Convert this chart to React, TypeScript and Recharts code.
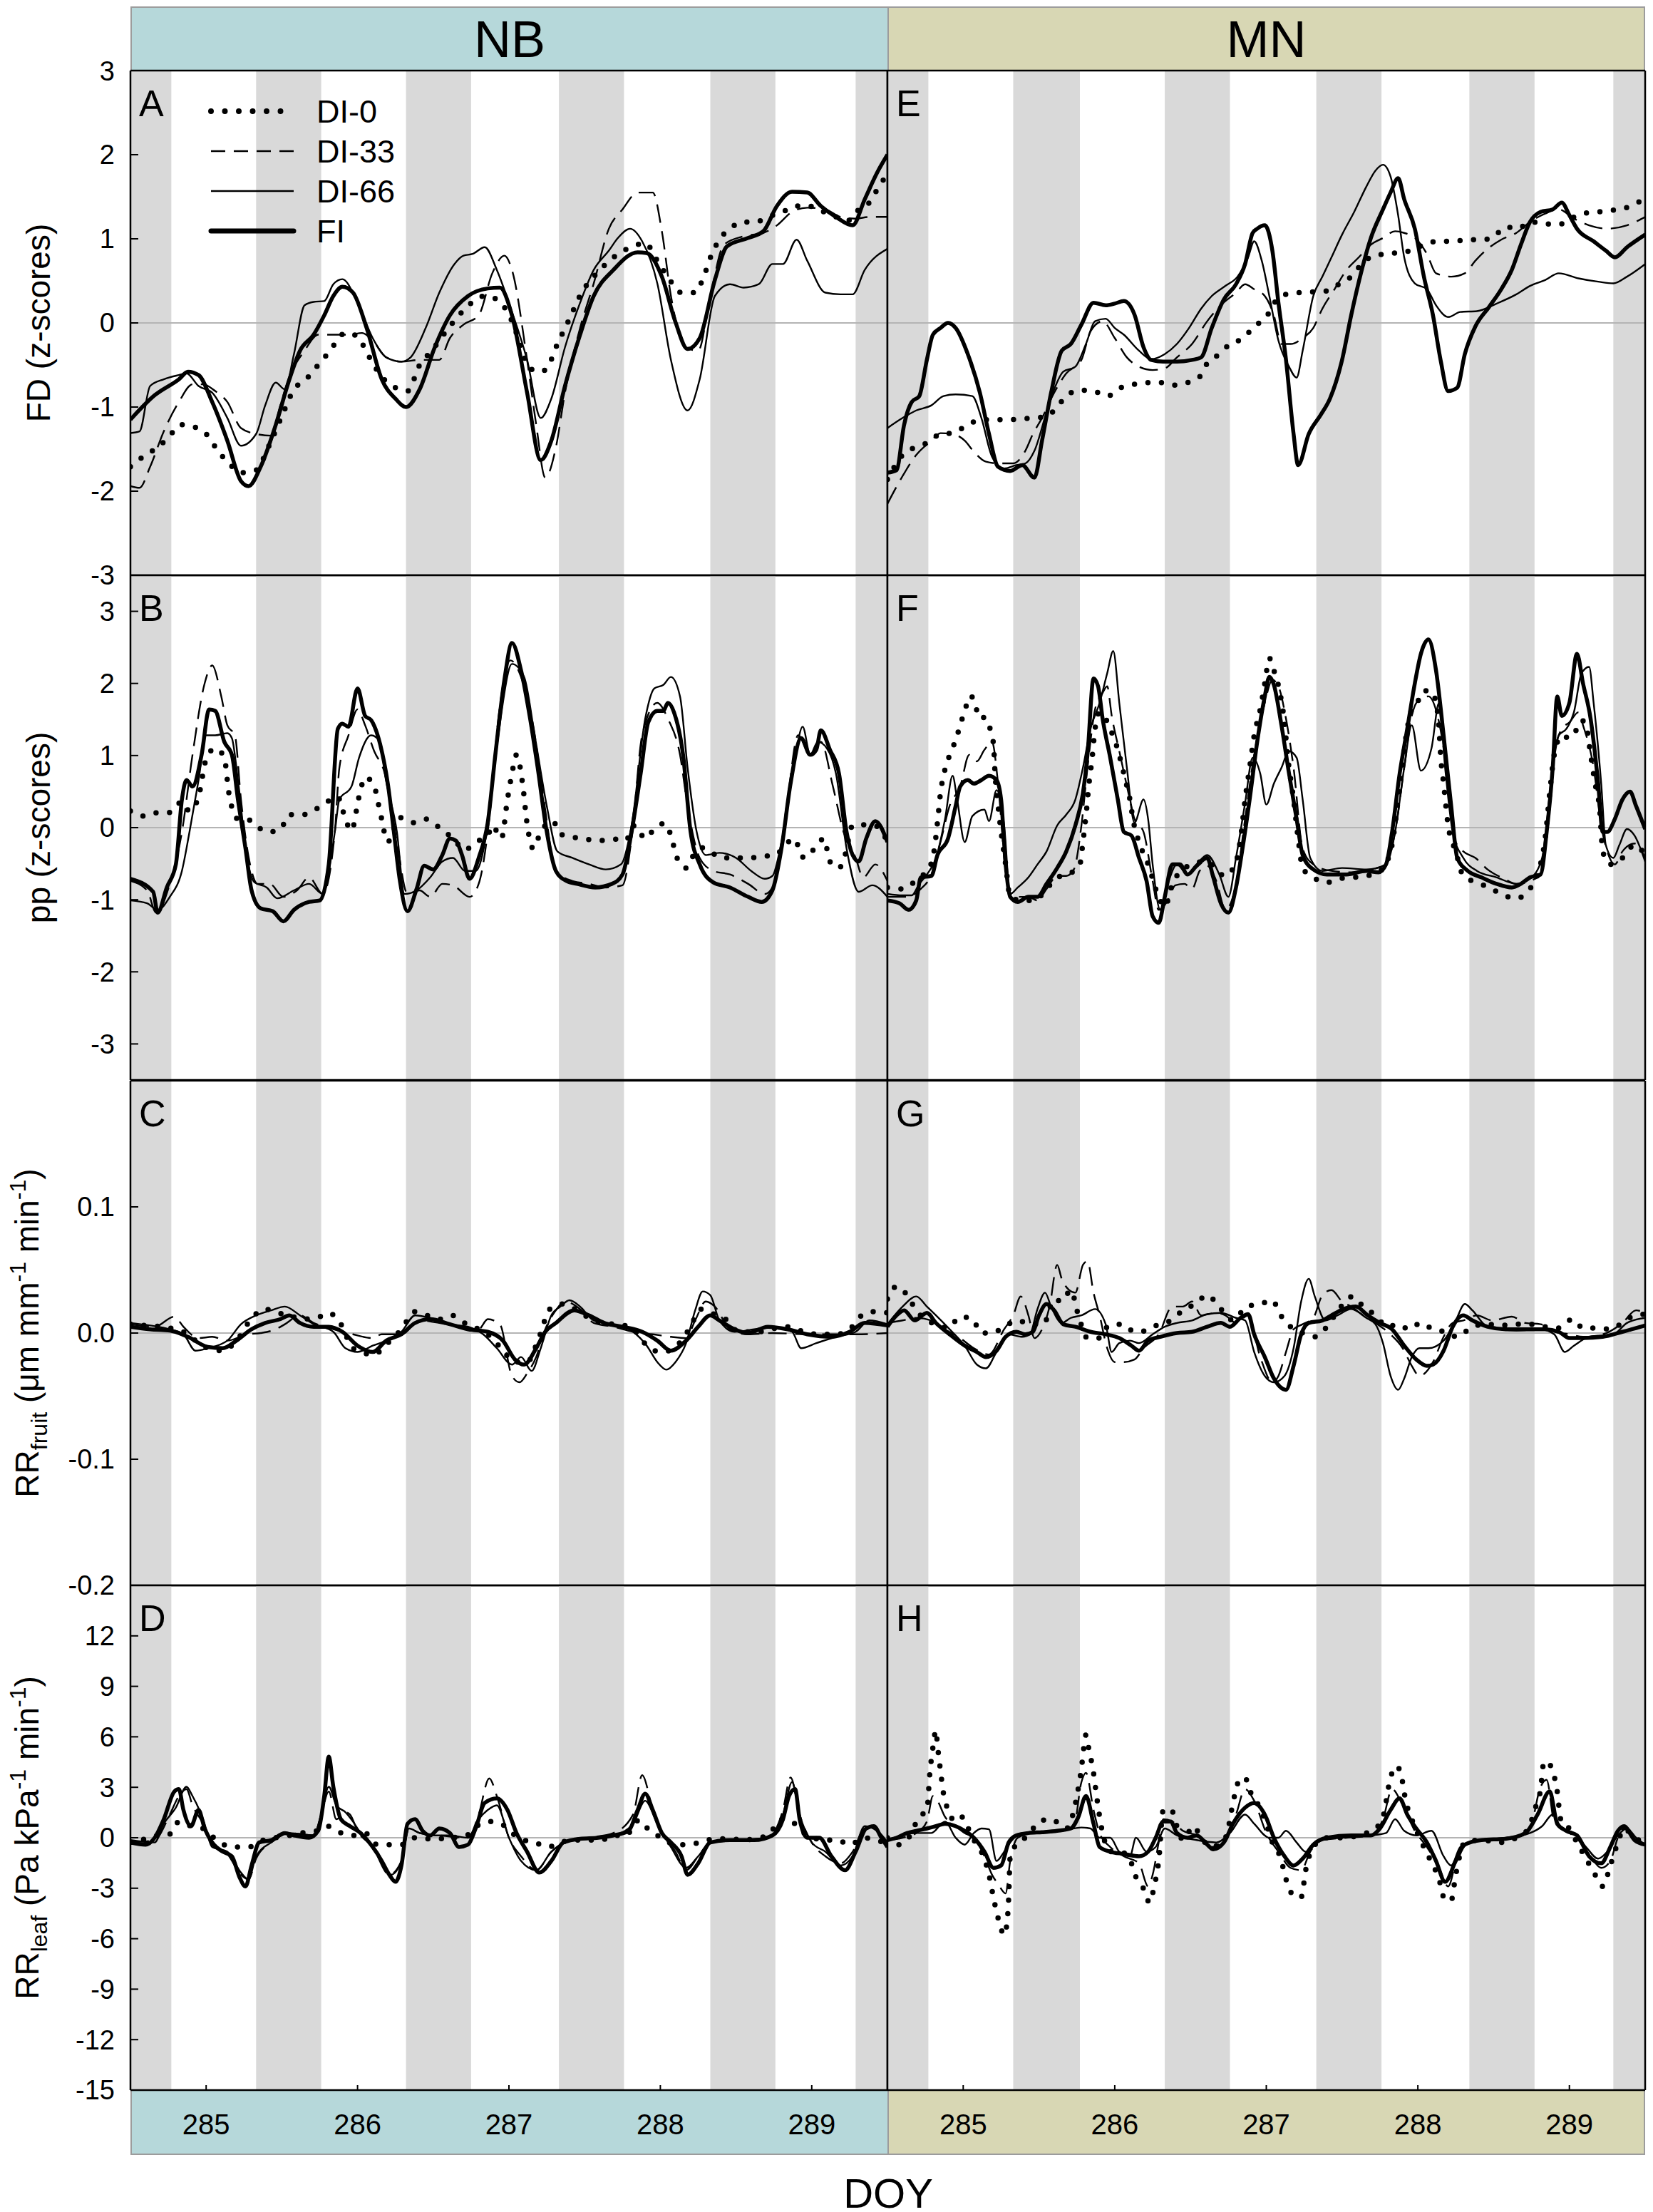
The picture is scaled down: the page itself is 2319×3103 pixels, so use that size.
import React from 'react';
import { LineChart, Line, XAxis, YAxis, ReferenceArea, ReferenceLine, Legend } from 'recharts';

type Pt = [number, number];

const FONT = '"Liberation Sans", Arial, Helvetica, sans-serif';

// ---- axes / categories ----
const doyTicks = [285, 286, 287, 288, 289];
const sites = ['NB', 'MN'];
const siteColors = ['#b6d8da', '#d8d7b4'];
const panelLetters = [['A', 'B', 'C', 'D'], ['E', 'F', 'G', 'H']];
const seriesNames = ['DI-0', 'DI-33', 'DI-66', 'FI'];

const nightsNB: Pt[] = [[284.5, 284.77], [285.33, 285.76], [286.32, 286.75], [287.33, 287.76], [288.33, 288.76], [289.29, 289.5]];
const nightsMN: Pt[] = [[284.5, 284.77], [285.33, 285.77], [286.33, 286.76], [287.33, 287.76], [288.34, 288.77], [289.29, 289.5]];

const fdTicks = [-3, -2, -1, 0, 1, 2, 3];
const ppTicks = [-3, -2, -1, 0, 1, 2, 3];
const rfTicks = [-0.2, -0.1, 0, 0.1, 0.2];
const rlTicks = [-15, -12, -9, -6, -3, 0, 3, 6, 9, 12, 15];

// ---- FD, NB ----
const fdNB_DI0: Pt[] = [[284.50,-1.71],[284.60,-1.57],[284.68,-1.48],[284.76,-1.34],[284.83,-1.21],[284.91,-1.23],[285.01,-1.34],[285.07,-1.50],[285.15,-1.67],[285.23,-1.78],[285.33,-1.75],[285.41,-1.48],[285.50,-1.11],[285.58,-0.79],[285.66,-0.67],[285.74,-0.50],[285.81,-0.35],[285.92,-0.12],[286.00,-0.16],[286.06,-0.35],[286.16,-0.64],[286.25,-0.77],[286.33,-0.81],[286.41,-0.50],[286.49,-0.33],[286.61,-0.04],[286.70,0.15],[286.76,0.25],[286.84,0.32],[286.92,0.28],[287.02,0.02],[287.12,-0.48],[287.18,-0.58],[287.24,-0.56],[287.32,-0.25],[287.40,0.05],[287.48,0.36],[287.56,0.55],[287.64,0.70],[287.72,0.82],[287.82,0.91],[287.90,0.95],[287.98,0.74],[288.07,0.49],[288.14,0.36],[288.23,0.36],[288.28,0.52],[288.34,0.82],[288.39,0.99],[288.46,1.12],[288.54,1.20],[288.63,1.20],[288.71,1.26],[288.81,1.32],[288.89,1.39],[288.98,1.39],[289.08,1.32],[289.16,1.26],[289.25,1.22],[289.32,1.37],[289.38,1.43],[289.43,1.58],[289.48,1.72]];
const fdNB_DI33: Pt[] = [[284.50,-1.94],[284.56,-1.96],[284.63,-1.71],[284.72,-1.29],[284.82,-0.94],[284.91,-0.73],[284.98,-0.73],[285.06,-0.81],[285.14,-0.94],[285.23,-1.25],[285.33,-1.32],[285.43,-1.34],[285.49,-0.98],[285.55,-0.64],[285.65,-0.33],[285.74,-0.14],[285.84,-0.14],[285.94,-0.14],[286.03,-0.12],[286.10,-0.21],[286.19,-0.41],[286.29,-0.46],[286.41,-0.44],[286.54,-0.44],[286.61,-0.18],[286.70,-0.02],[286.80,0.09],[286.89,0.59],[286.97,0.80],[287.02,0.63],[287.12,-0.44],[287.18,-1.21],[287.24,-1.84],[287.31,-1.48],[287.37,-0.83],[287.47,-0.06],[287.56,0.47],[287.66,1.12],[287.75,1.35],[287.85,1.55],[287.95,1.55],[288.01,1.09],[288.07,0.32],[288.17,-0.29],[288.25,-0.33],[288.33,0.32],[288.42,0.93],[288.55,1.03],[288.68,1.07],[288.77,1.16],[288.87,1.32],[288.97,1.37],[289.09,1.35],[289.19,1.26],[289.29,1.24],[289.38,1.26],[289.50,1.26]];
const fdNB_DI66: Pt[] = [[284.50,-1.31],[284.56,-1.29],[284.63,-0.75],[284.72,-0.67],[284.82,-0.62],[284.87,-0.60],[284.95,-0.75],[285.04,-0.83],[285.14,-1.13],[285.23,-1.46],[285.33,-1.32],[285.39,-0.98],[285.46,-0.71],[285.52,-0.79],[285.58,-0.37],[285.65,0.21],[285.71,0.25],[285.78,0.26],[285.84,0.46],[285.90,0.52],[286.00,0.24],[286.10,-0.18],[286.19,-0.41],[286.29,-0.46],[286.35,-0.41],[286.45,-0.06],[286.54,0.36],[286.64,0.70],[286.70,0.80],[286.76,0.82],[286.84,0.90],[286.92,0.63],[287.02,0.13],[287.12,-0.44],[287.21,-1.13],[287.28,-0.90],[287.37,-0.29],[287.47,0.24],[287.56,0.63],[287.66,0.86],[287.72,1.01],[287.80,1.12],[287.88,0.97],[287.98,0.47],[288.07,-0.44],[288.18,-1.04],[288.26,-0.67],[288.36,0.32],[288.46,0.46],[288.55,0.42],[288.65,0.46],[288.74,0.70],[288.81,0.70],[288.90,0.99],[288.97,0.74],[289.09,0.36],[289.19,0.34],[289.27,0.34],[289.35,0.63],[289.50,0.88]];
const fdNB_FI: Pt[] = [[284.50,-1.15],[284.66,-0.86],[284.82,-0.67],[284.88,-0.58],[284.95,-0.62],[285.04,-0.94],[285.14,-1.40],[285.23,-1.88],[285.28,-1.94],[285.36,-1.71],[285.46,-1.21],[285.55,-0.67],[285.62,-0.33],[285.71,-0.14],[285.78,0.09],[285.84,0.32],[285.90,0.43],[285.97,0.36],[286.06,-0.06],[286.16,-0.67],[286.25,-0.90],[286.32,-1.00],[286.41,-0.79],[286.51,-0.29],[286.61,0.09],[286.73,0.32],[286.86,0.41],[286.94,0.42],[287.02,0.09],[287.12,-0.83],[287.21,-1.63],[287.28,-1.40],[287.37,-0.75],[287.47,-0.14],[287.56,0.32],[287.69,0.63],[287.85,0.84],[287.91,0.83],[288.01,0.55],[288.10,0.01],[288.18,-0.31],[288.26,-0.18],[288.36,0.51],[288.44,0.91],[288.58,1.01],[288.68,1.09],[288.77,1.39],[288.87,1.56],[288.97,1.55],[289.06,1.39],[289.16,1.26],[289.27,1.16],[289.35,1.47],[289.43,1.78],[289.50,2.00]];

// ---- pp, NB ----
const ppNB_DI0: Pt[] = [[284.50,0.23],[284.59,0.16],[284.69,0.21],[284.76,0.21],[284.84,0.36],[284.89,0.23],[284.95,0.43],[285.00,0.95],[285.06,1.10],[285.12,0.97],[285.15,0.48],[285.21,0.12],[285.27,0.12],[285.32,0.04],[285.41,-0.06],[285.49,-0.02],[285.55,0.18],[285.64,0.18],[285.72,0.25],[285.80,0.36],[285.87,0.43],[285.90,0.25],[285.96,-0.04],[286.01,0.43],[286.05,0.70],[286.11,0.57],[286.15,0.21],[286.20,-0.20],[286.24,-0.02],[286.28,0.14],[286.37,0.07],[286.45,0.12],[286.54,0.00],[286.63,-0.15],[286.71,-0.31],[286.78,-0.20],[286.86,-0.11],[286.89,0.03],[286.95,-0.15],[286.99,0.39],[287.02,0.75],[287.05,1.01],[287.09,0.61],[287.12,0.05],[287.16,-0.29],[287.21,-0.06],[287.29,0.09],[287.34,-0.09],[287.42,-0.13],[287.51,-0.16],[287.60,-0.18],[287.70,-0.16],[287.77,-0.18],[287.83,0.03],[287.90,-0.15],[287.96,-0.02],[288.03,0.06],[288.07,-0.11],[288.11,-0.42],[288.17,-0.56],[288.22,-0.38],[288.28,-0.28],[288.41,-0.42],[288.50,-0.42],[288.58,-0.42],[288.67,-0.40],[288.76,-0.38],[288.82,-0.26],[288.88,-0.15],[288.95,-0.42],[289.03,-0.26],[289.08,-0.15],[289.12,-0.47],[289.18,-0.56],[289.22,-0.38],[289.27,0.03],[289.34,0.04],[289.42,0.03],[289.47,-0.11],[289.50,-0.15]];
const ppNB_DI33: Pt[] = [[284.50,-0.74],[284.61,-0.87],[284.67,-1.18],[284.76,-0.78],[284.84,-0.06],[284.91,1.01],[284.99,2.00],[285.04,2.25],[285.10,1.82],[285.14,1.42],[285.19,1.28],[285.23,0.39],[285.29,-0.51],[285.34,-0.78],[285.42,-0.78],[285.51,-0.96],[285.60,-0.87],[285.68,-0.69],[285.77,-0.92],[285.85,-0.06],[285.88,0.83],[285.94,1.28],[286.00,1.64],[286.05,1.42],[286.11,1.06],[286.18,0.75],[286.26,-0.20],[286.33,-0.92],[286.41,-0.87],[286.48,-0.96],[286.56,-0.78],[286.63,-0.80],[286.74,-0.96],[286.80,-0.78],[286.87,0.12],[286.93,1.51],[287.01,2.32],[287.08,2.09],[287.16,1.42],[287.23,0.39],[287.31,-0.60],[287.42,-0.74],[287.53,-0.78],[287.64,-0.83],[287.75,-0.80],[287.81,-0.15],[287.88,1.28],[287.98,1.73],[288.05,1.51],[288.13,1.01],[288.18,0.30],[288.26,-0.42],[288.35,-0.60],[288.46,-0.65],[288.58,-0.78],[288.69,-0.92],[288.76,-0.74],[288.84,0.39],[288.91,1.28],[288.99,1.01],[289.06,1.19],[289.14,0.57],[289.21,-0.06],[289.29,-0.42],[289.34,-0.69],[289.42,-0.51],[289.50,-0.74]];
const ppNB_DI66: Pt[] = [[284.50,-1.01],[284.61,-1.05],[284.68,-1.14],[284.76,-0.96],[284.84,-0.60],[284.89,-0.06],[284.95,0.66],[285.00,1.28],[285.06,1.28],[285.14,1.31],[285.17,1.24],[285.21,0.66],[285.27,-0.42],[285.32,-0.76],[285.40,-0.83],[285.47,-0.98],[285.58,-0.87],[285.68,-0.78],[285.77,-0.92],[285.85,-0.06],[285.88,0.39],[285.96,0.57],[286.01,0.97],[286.09,1.28],[286.15,1.19],[286.18,0.75],[286.26,-0.06],[286.31,-0.92],[286.39,-0.87],[286.48,-0.69],[286.56,-0.47],[286.63,-0.42],[286.71,-0.60],[286.78,-0.60],[286.86,0.03],[286.93,1.28],[287.02,2.27],[287.10,2.09],[287.17,1.28],[287.25,0.30],[287.32,-0.33],[287.42,-0.42],[287.53,-0.51],[287.64,-0.58],[287.74,-0.51],[287.81,0.03],[287.90,1.51],[287.96,1.93],[288.02,1.98],[288.07,2.09],[288.13,1.82],[288.18,0.83],[288.24,-0.06],[288.30,-0.38],[288.39,-0.35],[288.50,-0.42],[288.60,-0.60],[288.69,-0.71],[288.74,-0.67],[288.80,-0.20],[288.88,0.83],[288.94,1.40],[288.99,1.01],[289.04,1.19],[289.10,1.10],[289.16,0.75],[289.23,-0.29],[289.31,-0.89],[289.40,-0.80],[289.50,-0.96]];
const ppNB_FI: Pt[] = [[284.50,-0.71],[284.65,-0.89],[284.68,-1.18],[284.74,-0.83],[284.80,-0.51],[284.84,0.39],[284.87,0.66],[284.91,0.57],[284.97,1.01],[285.02,1.64],[285.06,1.62],[285.12,1.19],[285.17,1.01],[285.21,0.39],[285.26,-0.29],[285.30,-0.87],[285.36,-1.12],[285.44,-1.16],[285.51,-1.30],[285.58,-1.14],[285.68,-1.03],[285.75,-1.01],[285.81,-0.51],[285.87,1.37],[285.90,1.44],[285.94,1.40],[286.00,1.93],[286.05,1.55],[286.09,1.49],[286.15,1.15],[286.20,0.61],[286.24,-0.06],[286.28,-0.74],[286.33,-1.16],[286.39,-0.85],[286.44,-0.53],[286.50,-0.58],[286.56,-0.38],[286.61,-0.15],[286.65,-0.18],[286.69,-0.38],[286.74,-0.71],[286.80,-0.42],[286.86,0.07],[286.91,1.01],[286.97,2.05],[287.02,2.56],[287.08,2.18],[287.14,1.51],[287.19,0.83],[287.25,-0.06],[287.31,-0.60],[287.38,-0.74],[287.45,-0.78],[287.57,-0.83],[287.68,-0.78],[287.75,-0.65],[287.81,-0.06],[287.87,0.75],[287.92,1.46],[287.98,1.62],[288.02,1.62],[288.05,1.73],[288.09,1.60],[288.15,1.01],[288.20,-0.06],[288.26,-0.51],[288.35,-0.76],[288.46,-0.83],[288.58,-0.96],[288.67,-1.03],[288.74,-0.87],[288.80,-0.29],[288.86,0.61],[288.93,1.24],[288.99,1.01],[289.03,1.08],[289.06,1.35],[289.12,1.08],[289.18,0.75],[289.23,-0.06],[289.27,-0.38],[289.31,-0.47],[289.36,-0.15],[289.42,0.09],[289.50,-0.20]];

// ---- RR fruit, NB ----
const rfNB_DI0: Pt[] = [[284.50,0.007],[284.60,0.006],[284.76,0.004],[284.85,0.001],[284.93,-0.006],[285.01,-0.012],[285.11,-0.014],[285.20,-0.006],[285.31,0.013],[285.39,0.019],[285.47,0.016],[285.55,0.014],[285.63,0.011],[285.73,0.012],[285.81,0.016],[285.89,0.007],[285.97,-0.012],[286.11,-0.017],[286.19,-0.009],[286.29,0.003],[286.38,0.017],[286.46,0.014],[286.54,0.011],[286.62,0.014],[286.72,0.007],[286.80,0.003],[286.89,-0.004],[286.96,-0.014],[287.04,-0.023],[287.12,-0.023],[287.20,-0.003],[287.27,0.019],[287.36,0.023],[287.45,0.018],[287.56,0.010],[287.69,0.007],[287.80,0.005],[287.93,-0.012],[288.01,-0.015],[288.10,-0.011],[288.19,0.003],[288.27,0.019],[288.33,0.016],[288.42,0.012],[288.52,0.001],[288.65,0.001],[288.77,0.004],[288.85,0.005],[288.97,0.000],[289.06,-0.001],[289.16,-0.001],[289.25,0.003],[289.33,0.014],[289.41,0.017],[289.50,0.016]];
const rfNB_DI33: Pt[] = [[284.50,0.007],[284.66,0.005],[284.79,0.013],[284.85,0.005],[284.95,-0.004],[285.04,-0.003],[285.14,-0.006],[285.27,-0.001],[285.36,0.000],[285.46,0.003],[285.52,0.007],[285.62,0.014],[285.71,0.008],[285.84,0.003],[285.97,-0.001],[286.10,-0.004],[286.16,-0.001],[286.29,-0.001],[286.41,0.010],[286.54,0.008],[286.67,0.005],[286.80,0.003],[286.86,0.011],[286.94,0.007],[287.02,-0.034],[287.07,-0.039],[287.12,-0.032],[287.18,-0.019],[287.24,0.003],[287.31,0.018],[287.37,0.025],[287.47,0.019],[287.56,0.008],[287.69,0.005],[287.82,0.001],[287.95,-0.001],[288.07,-0.003],[288.17,-0.004],[288.23,0.010],[288.30,0.025],[288.36,0.021],[288.46,0.003],[288.58,-0.001],[288.74,0.000],[288.97,-0.001],[289.13,-0.001],[289.29,-0.001],[289.50,0.000]];
const rfNB_DI66: Pt[] = [[284.50,0.008],[284.63,0.006],[284.76,0.003],[284.85,-0.001],[284.93,-0.014],[285.01,-0.012],[285.14,-0.006],[285.23,0.007],[285.33,0.014],[285.43,0.018],[285.52,0.021],[285.62,0.014],[285.71,0.007],[285.84,0.001],[285.92,-0.012],[286.00,-0.015],[286.10,-0.010],[286.19,-0.006],[286.29,0.001],[286.38,0.014],[286.48,0.012],[286.61,0.007],[286.73,0.005],[286.83,-0.001],[286.92,-0.012],[287.02,-0.025],[287.08,-0.019],[287.15,-0.030],[287.21,-0.012],[287.28,0.014],[287.34,0.021],[287.40,0.026],[287.47,0.021],[287.56,0.010],[287.69,0.007],[287.82,0.001],[287.91,-0.010],[287.98,-0.023],[288.04,-0.029],[288.10,-0.023],[288.17,-0.008],[288.23,0.018],[288.28,0.033],[288.33,0.030],[288.39,0.010],[288.49,0.001],[288.62,0.003],[288.74,0.005],[288.87,0.001],[288.93,-0.012],[289.03,-0.008],[289.16,-0.003],[289.29,0.001],[289.38,0.010],[289.50,0.007]];
const rfNB_FI: Pt[] = [[284.50,0.005],[284.63,0.003],[284.76,0.002],[284.88,-0.003],[285.01,-0.011],[285.11,-0.012],[285.20,-0.006],[285.30,0.003],[285.39,0.008],[285.49,0.011],[285.55,0.014],[285.62,0.008],[285.71,0.005],[285.81,0.005],[285.90,0.001],[286.00,-0.010],[286.10,-0.015],[286.19,-0.006],[286.29,-0.001],[286.38,0.008],[286.48,0.011],[286.61,0.007],[286.73,0.003],[286.86,0.001],[286.96,-0.006],[287.04,-0.021],[287.10,-0.025],[287.18,-0.012],[287.24,0.001],[287.31,0.008],[287.43,0.018],[287.53,0.014],[287.63,0.008],[287.75,0.005],[287.88,0.001],[287.98,-0.006],[288.07,-0.014],[288.17,-0.006],[288.25,0.005],[288.33,0.014],[288.39,0.010],[288.49,0.003],[288.58,0.000],[288.71,0.005],[288.84,0.003],[288.97,-0.001],[289.13,-0.003],[289.25,0.001],[289.35,0.008],[289.50,0.006]];

// ---- RR leaf, NB ----
const rlNB_DI0: Pt[] = [[284.50,-0.28],[284.60,-0.06],[284.68,0.14],[284.76,0.22],[284.82,0.96],[284.90,0.69],[284.98,0.55],[285.07,-0.14],[285.17,-0.55],[285.28,-0.55],[285.38,-0.14],[285.46,0.00],[285.55,0.14],[285.63,0.28],[285.73,0.41],[285.80,0.69],[285.88,0.33],[285.97,0.14],[286.05,0.28],[286.13,-0.41],[286.21,-0.41],[286.29,-0.41],[286.38,0.00],[286.46,-0.06],[286.54,-0.06],[286.62,0.00],[286.72,0.14],[286.80,0.77],[286.88,0.96],[286.96,0.77],[287.04,0.14],[287.10,-0.14],[287.17,-0.28],[287.26,-0.55],[287.34,-0.28],[287.43,-0.14],[287.53,-0.14],[287.61,-0.14],[287.69,0.14],[287.77,0.14],[287.86,1.05],[287.93,0.41],[288.01,0.00],[288.10,-0.41],[288.18,-0.41],[288.26,-0.28],[288.36,-0.06],[288.46,-0.06],[288.55,-0.14],[288.65,0.00],[288.71,0.14],[288.80,1.10],[288.87,0.96],[288.93,0.41],[289.01,0.00],[289.09,-0.14],[289.17,-0.14],[289.25,-0.41],[289.35,0.00],[289.41,-0.14],[289.50,-0.28]];
const rlNB_DI33: Pt[] = [[284.50,-0.28],[284.66,-0.14],[284.76,1.38],[284.82,2.48],[284.87,2.89],[284.91,1.93],[284.98,0.83],[285.04,-0.41],[285.14,-0.96],[285.23,-2.20],[285.28,-2.48],[285.33,-1.24],[285.43,-0.28],[285.55,0.28],[285.71,0.14],[285.76,1.38],[285.81,2.75],[285.86,1.10],[285.92,1.52],[285.95,1.38],[286.00,0.41],[286.10,-0.55],[286.21,-2.20],[286.29,-1.38],[286.34,0.55],[286.41,0.28],[286.54,0.14],[286.73,0.00],[286.80,1.38],[286.87,3.53],[286.92,2.48],[287.00,0.00],[287.08,-1.10],[287.18,-1.93],[287.28,-0.83],[287.37,-0.28],[287.53,0.00],[287.69,0.28],[287.82,1.38],[287.88,3.72],[287.95,1.65],[288.01,0.28],[288.10,-0.83],[288.17,-1.93],[288.25,-1.10],[288.33,-0.28],[288.52,-0.14],[288.71,0.00],[288.81,1.65],[288.86,3.58],[288.92,1.38],[289.00,-0.28],[289.09,-1.10],[289.19,-1.52],[289.27,-0.83],[289.35,0.55],[289.43,0.41],[289.50,-0.28]];
const rlNB_DI66: Pt[] = [[284.50,-0.14],[284.66,-0.28],[284.72,0.83],[284.80,1.79],[284.87,3.03],[284.91,2.48],[284.98,1.10],[285.04,-0.55],[285.14,-0.83],[285.23,-2.07],[285.28,-2.48],[285.33,-1.10],[285.43,-0.28],[285.55,0.28],[285.71,0.14],[285.76,1.38],[285.81,3.03],[285.86,1.93],[285.92,1.52],[285.97,0.96],[286.03,0.14],[286.13,-0.83],[286.22,-2.20],[286.29,-1.38],[286.34,0.55],[286.41,0.28],[286.51,0.14],[286.61,0.14],[286.73,0.00],[286.80,1.10],[286.86,1.65],[286.92,1.93],[287.00,0.00],[287.08,-1.38],[287.18,-1.93],[287.28,-0.83],[287.37,-0.28],[287.53,0.00],[287.69,0.14],[287.82,0.83],[287.90,2.20],[287.98,0.83],[288.07,-0.55],[288.17,-1.79],[288.25,-1.10],[288.33,-0.28],[288.52,-0.14],[288.71,0.00],[288.81,1.38],[288.87,3.31],[288.92,1.38],[289.00,-0.28],[289.09,-0.83],[289.19,-1.65],[289.27,-1.10],[289.35,0.69],[289.43,0.41],[289.50,-0.28]];
const rlNB_FI: Pt[] = [[284.50,-0.28],[284.60,-0.41],[284.66,0.00],[284.72,1.10],[284.79,2.75],[284.82,2.89],[284.85,1.65],[284.90,0.69],[284.95,1.65],[284.99,0.55],[285.04,-0.28],[285.11,-0.83],[285.17,-1.10],[285.22,-2.34],[285.26,-2.89],[285.30,-1.65],[285.35,-0.28],[285.43,-0.14],[285.52,0.28],[285.58,0.14],[285.68,0.00],[285.74,0.41],[285.78,2.48],[285.81,4.82],[285.84,3.03],[285.89,1.10],[285.95,0.69],[286.02,0.28],[286.10,-0.55],[286.16,-1.38],[286.21,-2.20],[286.25,-2.62],[286.29,-1.65],[286.33,0.83],[286.38,1.10],[286.43,0.41],[286.48,0.14],[286.54,0.55],[286.61,0.28],[286.67,-0.55],[286.73,-0.41],[286.78,0.55],[286.84,2.07],[286.92,2.34],[286.99,1.65],[287.05,0.28],[287.12,-0.83],[287.20,-2.07],[287.28,-1.38],[287.36,-0.28],[287.47,-0.06],[287.59,0.00],[287.69,0.14],[287.79,0.41],[287.85,1.65],[287.90,2.62],[287.95,1.65],[288.01,0.28],[288.07,-0.28],[288.14,-1.10],[288.18,-2.20],[288.25,-1.52],[288.33,-0.28],[288.46,-0.14],[288.62,-0.14],[288.74,0.14],[288.81,1.10],[288.85,2.48],[288.89,2.89],[288.92,1.10],[288.97,0.00],[289.05,0.00],[289.13,-1.10],[289.22,-1.93],[289.29,-0.83],[289.36,0.55],[289.41,0.69],[289.46,0.00],[289.50,-0.55]];

// ---- FD, MN ----
const fdMN_DI0: Pt[] = [[284.50,-1.86],[284.60,-1.57],[284.68,-1.48],[284.77,-1.42],[284.85,-1.32],[284.93,-1.31],[285.03,-1.21],[285.12,-1.15],[285.20,-1.15],[285.30,-1.15],[285.38,-1.14],[285.47,-1.13],[285.55,-1.11],[285.62,-1.00],[285.69,-0.85],[285.78,-0.80],[285.86,-0.81],[285.95,-0.87],[286.04,-0.77],[286.13,-0.73],[286.21,-0.71],[286.30,-0.71],[286.39,-0.74],[286.48,-0.71],[286.56,-0.64],[286.61,-0.48],[286.69,-0.37],[286.76,-0.25],[286.85,-0.18],[286.92,-0.04],[287.00,0.07],[287.05,0.23],[287.13,0.34],[287.22,0.36],[287.31,0.37],[287.40,0.38],[287.48,0.46],[287.56,0.55],[287.63,0.70],[287.71,0.80],[287.80,0.82],[287.88,0.84],[287.96,0.86],[288.06,0.95],[288.14,0.97],[288.23,0.97],[288.33,0.99],[288.41,0.99],[288.49,1.01],[288.58,1.14],[288.66,1.12],[288.74,1.20],[288.84,1.18],[288.93,1.17],[289.01,1.24],[289.09,1.30],[289.19,1.32],[289.29,1.34],[289.36,1.36],[289.46,1.44]];
const fdMN_DI33: Pt[] = [[284.50,-2.15],[284.60,-1.82],[284.69,-1.57],[284.79,-1.40],[284.85,-1.31],[284.93,-1.32],[285.01,-1.40],[285.07,-1.53],[285.15,-1.65],[285.23,-1.67],[285.33,-1.67],[285.41,-1.52],[285.46,-1.32],[285.52,-1.13],[285.60,-0.83],[285.68,-0.60],[285.78,-0.44],[285.84,-0.10],[285.92,0.02],[286.00,-0.18],[286.08,-0.41],[286.16,-0.52],[286.25,-0.56],[286.33,-0.54],[286.41,-0.41],[286.51,-0.25],[286.61,0.02],[286.70,0.21],[286.80,0.36],[286.86,0.46],[286.92,0.40],[286.99,0.32],[287.05,0.09],[287.10,-0.25],[287.16,-0.25],[287.24,-0.18],[287.31,-0.06],[287.37,0.17],[287.45,0.40],[287.53,0.63],[287.61,0.78],[287.69,0.93],[287.77,1.01],[287.85,1.09],[287.91,1.07],[287.98,1.01],[288.06,0.82],[288.12,0.59],[288.22,0.55],[288.31,0.59],[288.38,0.74],[288.46,0.88],[288.55,0.99],[288.65,1.07],[288.74,1.20],[288.84,1.30],[288.93,1.35],[289.03,1.24],[289.13,1.16],[289.25,1.12],[289.38,1.16],[289.50,1.26]];
const fdMN_DI66: Pt[] = [[284.50,-1.25],[284.60,-1.13],[284.69,-1.04],[284.79,-0.98],[284.87,-0.87],[284.95,-0.85],[285.06,-0.87],[285.12,-1.13],[285.19,-1.59],[285.27,-1.73],[285.35,-1.69],[285.41,-1.67],[285.47,-1.52],[285.55,-1.06],[285.60,-0.79],[285.66,-0.58],[285.74,-0.52],[285.81,-0.25],[285.87,0.02],[285.94,0.05],[286.00,-0.06],[286.06,-0.14],[286.16,-0.33],[286.24,-0.43],[286.33,-0.37],[286.41,-0.25],[286.49,-0.06],[286.57,0.17],[286.64,0.32],[286.73,0.44],[286.81,0.55],[286.88,0.78],[286.92,0.97],[286.97,0.74],[287.02,0.32],[287.08,-0.21],[287.15,-0.52],[287.20,-0.65],[287.24,-0.33],[287.31,0.32],[287.37,0.55],[287.43,0.78],[287.50,1.05],[287.58,1.32],[287.66,1.62],[287.72,1.81],[287.77,1.88],[287.82,1.74],[287.87,1.28],[287.91,0.78],[287.98,0.47],[288.06,0.40],[288.12,0.21],[288.20,0.07],[288.28,0.13],[288.39,0.14],[288.52,0.23],[288.65,0.34],[288.74,0.44],[288.84,0.51],[288.93,0.59],[289.06,0.53],[289.19,0.49],[289.29,0.47],[289.38,0.55],[289.50,0.70]];
const fdMN_FI: Pt[] = [[284.50,-1.78],[284.56,-1.75],[284.61,-1.21],[284.66,-0.94],[284.71,-0.87],[284.76,-0.44],[284.80,-0.14],[284.85,-0.06],[284.90,0.00],[284.95,-0.06],[285.03,-0.37],[285.11,-0.83],[285.17,-1.32],[285.23,-1.71],[285.31,-1.76],[285.39,-1.69],[285.47,-1.84],[285.52,-1.40],[285.58,-0.83],[285.65,-0.33],[285.71,-0.25],[285.78,-0.02],[285.86,0.24],[285.94,0.21],[286.00,0.23],[286.06,0.26],[286.13,0.10],[286.19,-0.29],[286.24,-0.44],[286.32,-0.46],[286.41,-0.46],[286.51,-0.44],[286.57,-0.41],[286.64,-0.06],[286.72,0.28],[286.80,0.46],[286.86,0.70],[286.91,1.07],[286.94,1.12],[286.99,1.16],[287.04,0.86],[287.08,0.24],[287.13,-0.44],[287.18,-1.32],[287.21,-1.69],[287.28,-1.32],[287.36,-1.09],[287.42,-0.90],[287.50,-0.44],[287.56,0.09],[287.63,0.63],[287.69,1.01],[287.77,1.35],[287.82,1.55],[287.87,1.72],[287.91,1.47],[287.98,1.12],[288.04,0.55],[288.10,0.09],[288.15,-0.44],[288.20,-0.81],[288.26,-0.77],[288.31,-0.37],[288.38,-0.04],[288.47,0.19],[288.55,0.40],[288.62,0.63],[288.68,0.93],[288.74,1.20],[288.81,1.32],[288.89,1.35],[288.95,1.43],[289.00,1.28],[289.05,1.12],[289.16,0.97],[289.24,0.86],[289.30,0.78],[289.38,0.90],[289.50,1.05]];

// ---- pp, MN ----
const ppMN_DI0: Pt[] = [[284.50,-0.83],[284.60,-0.85],[284.71,-0.69],[284.77,-0.58],[284.81,-0.29],[284.83,0.07],[284.85,0.48],[284.88,0.81],[284.93,1.10],[284.96,1.28],[284.99,1.49],[285.02,1.69],[285.05,1.83],[285.08,1.69],[285.11,1.51],[285.14,1.53],[285.18,1.35],[285.20,1.15],[285.21,0.75],[285.23,0.30],[285.25,-0.06],[285.28,-0.51],[285.31,-0.96],[285.39,-1.01],[285.47,-1.01],[285.55,-0.85],[285.62,-0.69],[285.69,-0.65],[285.73,-0.60],[285.77,-0.51],[285.79,-0.20],[285.81,0.16],[285.83,0.61],[285.85,0.95],[285.87,1.37],[285.90,1.60],[285.94,1.51],[285.97,1.37],[286.01,1.15],[286.04,0.92],[286.07,0.66],[286.10,0.39],[286.12,0.12],[286.16,-0.20],[286.22,-0.51],[286.29,-0.96],[286.33,-1.10],[286.38,-0.78],[286.45,-0.58],[286.51,-0.51],[286.59,-0.47],[286.67,-0.56],[286.72,-0.67],[286.75,-0.60],[286.78,-0.58],[286.83,-0.15],[286.86,0.39],[286.89,0.83],[286.92,1.28],[286.96,1.64],[286.99,2.00],[287.02,2.35],[287.05,2.18],[287.09,1.87],[287.12,1.46],[287.14,1.01],[287.18,0.39],[287.21,-0.15],[287.24,-0.56],[287.31,-0.69],[287.40,-0.76],[287.48,-0.71],[287.57,-0.69],[287.66,-0.67],[287.74,-0.62],[287.82,-0.33],[287.87,0.39],[287.90,0.92],[287.93,1.37],[287.96,1.64],[287.99,1.71],[288.04,1.90],[288.09,1.89],[288.12,1.73],[288.14,1.37],[288.15,1.01],[288.17,0.61],[288.20,0.03],[288.25,-0.33],[288.30,-0.67],[288.39,-0.76],[288.47,-0.83],[288.57,-0.94],[288.65,-0.98],[288.73,-0.87],[288.79,-0.65],[288.84,-0.15],[288.87,0.48],[288.90,1.01],[288.95,1.28],[289.00,1.24],[289.05,1.37],[289.08,1.49],[289.11,1.42],[289.14,1.01],[289.17,0.61],[289.20,0.25],[289.22,-0.33],[289.27,-0.51],[289.35,-0.42],[289.43,-0.24],[289.50,-0.38]];
const ppMN_DI33: Pt[] = [[284.50,-0.96],[284.63,-0.96],[284.72,-0.85],[284.79,-0.65],[284.85,-0.20],[284.91,0.30],[284.98,0.57],[285.04,1.01],[285.09,0.92],[285.14,1.08],[285.19,1.19],[285.23,0.61],[285.28,-0.60],[285.33,-0.96],[285.43,-0.96],[285.49,-1.01],[285.55,-0.85],[285.62,-0.67],[285.68,-0.67],[285.73,-0.58],[285.78,0.03],[285.82,0.83],[285.87,1.64],[285.92,1.87],[285.95,1.96],[285.98,1.55],[286.03,1.06],[286.10,0.39],[286.13,0.12],[286.19,-0.06],[286.25,-0.74],[286.29,-1.14],[286.35,-1.01],[286.40,-0.80],[286.46,-0.78],[286.51,-0.85],[286.56,-0.60],[286.61,-0.53],[286.67,-0.74],[286.73,-1.14],[286.80,-0.78],[286.86,0.12],[286.92,1.01],[286.99,1.73],[287.04,2.05],[287.08,1.96],[287.13,1.51],[287.18,0.83],[287.24,-0.29],[287.31,-0.51],[287.43,-0.60],[287.56,-0.62],[287.69,-0.58],[287.79,-0.51],[287.85,-0.06],[287.91,0.83],[287.96,1.55],[288.01,1.78],[288.07,1.82],[288.14,1.46],[288.20,0.66],[288.25,-0.20],[288.30,-0.33],[288.38,-0.42],[288.46,-0.58],[288.57,-0.71],[288.65,-0.78],[288.74,-0.74],[288.81,-0.65],[288.85,-0.06],[288.90,1.01],[288.95,1.37],[289.00,1.46],[289.06,1.60],[289.09,1.42],[289.16,0.83],[289.21,0.03],[289.25,-0.33],[289.30,-0.51],[289.35,-0.33],[289.43,-0.22],[289.50,-0.42]];
const ppMN_DI66: Pt[] = [[284.50,-0.92],[284.60,-0.94],[284.66,-0.94],[284.71,-0.78],[284.76,-0.65],[284.82,-0.42],[284.88,0.12],[284.93,0.72],[284.96,0.39],[285.01,-0.20],[285.06,0.16],[285.14,0.25],[285.17,0.09],[285.22,0.52],[285.27,0.03],[285.31,-0.92],[285.36,-0.83],[285.43,-0.69],[285.49,-0.51],[285.55,-0.33],[285.62,0.03],[285.68,0.18],[285.74,0.39],[285.79,0.83],[285.84,1.37],[285.90,1.73],[285.95,2.14],[285.99,2.45],[286.03,1.73],[286.08,0.83],[286.13,0.07],[286.19,0.39],[286.22,0.12],[286.25,-0.51],[286.30,-1.14],[286.35,-0.78],[286.41,-0.51],[286.48,-0.65],[286.54,-0.51],[286.61,-0.38],[286.69,-0.65],[286.75,-0.96],[286.80,-0.42],[286.86,0.34],[286.91,0.97],[286.96,0.75],[287.00,0.32],[287.05,0.61],[287.10,0.83],[287.15,1.06],[287.20,0.97],[287.24,0.39],[287.29,-0.42],[287.37,-0.60],[287.50,-0.56],[287.66,-0.58],[287.79,-0.51],[287.85,-0.06],[287.91,0.83],[287.96,1.42],[288.02,0.79],[288.09,1.10],[288.14,1.73],[288.18,0.83],[288.23,-0.06],[288.30,-0.42],[288.39,-0.60],[288.52,-0.69],[288.65,-0.78],[288.74,-0.71],[288.82,-0.42],[288.89,0.83],[288.93,1.28],[288.98,1.37],[289.03,1.60],[289.08,2.14],[289.13,2.23],[289.16,1.73],[289.21,0.61],[289.24,-0.24],[289.29,-0.42],[289.33,-0.24],[289.38,-0.02],[289.43,-0.11],[289.50,-0.47]];
const ppMN_FI: Pt[] = [[284.50,-1.01],[284.58,-1.05],[284.64,-1.14],[284.69,-1.01],[284.72,-0.69],[284.79,-0.67],[284.83,-0.38],[284.90,-0.15],[284.95,0.30],[284.98,0.57],[285.03,0.66],[285.07,0.61],[285.12,0.66],[285.17,0.72],[285.22,0.66],[285.25,0.39],[285.28,-0.51],[285.31,-0.96],[285.36,-1.03],[285.43,-0.96],[285.49,-0.96],[285.55,-0.78],[285.62,-0.56],[285.68,-0.33],[285.74,0.03],[285.79,0.48],[285.82,1.01],[285.86,2.07],[285.89,1.96],[285.92,1.51],[285.97,0.97],[286.02,0.39],[286.06,-0.06],[286.11,-0.11],[286.16,-0.42],[286.21,-0.74],[286.25,-1.23],[286.29,-1.32],[286.33,-0.96],[286.38,-0.51],[286.43,-0.51],[286.48,-0.65],[286.54,-0.53],[286.61,-0.42],[286.65,-0.69],[286.70,-1.05],[286.75,-1.18],[286.80,-0.83],[286.84,-0.33],[286.89,0.39],[286.94,1.19],[286.99,1.82],[287.02,2.09],[287.05,1.98],[287.10,1.42],[287.15,0.75],[287.20,0.12],[287.24,-0.38],[287.31,-0.58],[287.40,-0.65],[287.53,-0.65],[287.66,-0.60],[287.74,-0.62],[287.79,-0.51],[287.83,-0.06],[287.88,0.75],[287.93,1.37],[287.98,2.00],[288.02,2.41],[288.07,2.61],[288.12,2.18],[288.17,1.28],[288.22,0.30],[288.26,-0.42],[288.33,-0.60],[288.42,-0.69],[288.52,-0.78],[288.62,-0.83],[288.68,-0.78],[288.74,-0.69],[288.81,-0.65],[288.85,-0.06],[288.89,0.83],[288.92,1.82],[288.95,1.55],[289.00,1.73],[289.05,2.41],[289.09,2.00],[289.14,1.51],[289.19,0.61],[289.22,-0.06],[289.25,-0.06],[289.30,0.12],[289.35,0.39],[289.40,0.50],[289.44,0.30],[289.50,-0.02]];

// ---- RR fruit, MN ----
const rfMN_DI0: Pt[] = [[284.50,0.027],[284.56,0.037],[284.63,0.030],[284.69,0.018],[284.76,0.010],[284.82,0.007],[284.90,0.004],[284.98,0.013],[285.06,0.011],[285.12,0.000],[285.19,0.000],[285.27,0.005],[285.36,0.010],[285.44,0.007],[285.53,0.007],[285.60,0.027],[285.65,0.025],[285.71,0.034],[285.76,0.014],[285.82,-0.004],[285.90,-0.004],[285.96,0.006],[286.05,0.007],[286.13,0.001],[286.21,0.002],[286.29,0.007],[286.37,0.010],[286.45,0.018],[286.53,0.023],[286.61,0.030],[286.70,0.019],[286.78,0.010],[286.87,0.021],[286.96,0.023],[287.04,0.026],[287.09,0.015],[287.16,0.005],[287.24,0.000],[287.32,-0.003],[287.40,0.005],[287.48,0.019],[287.57,0.029],[287.64,0.021],[287.72,0.014],[287.80,0.005],[287.87,0.007],[287.94,0.003],[288.02,0.008],[288.10,0.003],[288.18,0.001],[288.26,-0.003],[288.36,0.005],[288.46,0.007],[288.55,0.006],[288.65,0.007],[288.74,0.007],[288.84,0.005],[288.93,0.004],[289.02,0.011],[289.09,0.004],[289.18,0.004],[289.27,0.003],[289.35,0.008],[289.43,0.014],[289.50,0.015]];
const rfMN_DI33: Pt[] = [[284.50,0.008],[284.60,0.010],[284.69,0.012],[284.79,0.010],[284.88,0.003],[284.98,-0.004],[285.07,-0.012],[285.17,-0.017],[285.27,0.003],[285.33,0.014],[285.38,0.029],[285.43,0.014],[285.47,-0.004],[285.52,0.003],[285.57,0.021],[285.62,0.054],[285.65,0.043],[285.70,0.034],[285.74,0.032],[285.79,0.054],[285.82,0.057],[285.86,0.032],[285.90,0.014],[285.95,-0.012],[286.00,-0.023],[286.06,-0.023],[286.13,-0.021],[286.19,-0.012],[286.29,-0.001],[286.38,0.021],[286.45,0.021],[286.51,0.025],[286.57,0.014],[286.67,0.016],[286.73,0.014],[286.80,0.008],[286.88,0.014],[286.96,-0.019],[287.04,-0.039],[287.08,-0.034],[287.13,-0.015],[287.18,0.003],[287.24,0.007],[287.31,0.012],[287.37,0.030],[287.43,0.034],[287.50,0.025],[287.56,0.021],[287.64,0.014],[287.72,0.008],[287.82,-0.001],[287.90,-0.012],[287.96,-0.026],[288.01,-0.034],[288.10,-0.023],[288.17,-0.003],[288.23,0.008],[288.30,0.010],[288.39,0.014],[288.49,0.010],[288.62,0.013],[288.71,0.008],[288.81,0.007],[288.90,0.001],[289.00,-0.001],[289.09,-0.003],[289.22,-0.001],[289.35,0.008],[289.44,0.018],[289.50,0.016]];
const rfMN_DI66: Pt[] = [[284.50,0.007],[284.60,0.021],[284.69,0.029],[284.76,0.021],[284.82,0.014],[284.91,0.003],[285.01,-0.010],[285.09,-0.025],[285.15,-0.028],[285.22,-0.015],[285.30,-0.001],[285.39,-0.003],[285.44,-0.001],[285.49,0.019],[285.54,0.032],[285.58,0.021],[285.65,0.008],[285.71,0.012],[285.78,0.014],[285.87,0.019],[285.94,0.007],[285.98,-0.015],[286.03,-0.008],[286.10,-0.006],[286.16,-0.008],[286.25,-0.001],[286.33,0.005],[286.41,0.008],[286.51,0.010],[286.61,0.015],[286.70,0.016],[286.80,0.012],[286.86,0.010],[286.92,-0.015],[286.99,-0.034],[287.05,-0.039],[287.12,-0.034],[287.18,-0.012],[287.23,0.025],[287.28,0.043],[287.32,0.029],[287.39,0.010],[287.47,0.014],[287.56,0.019],[287.66,0.012],[287.72,0.007],[287.77,-0.008],[287.82,-0.034],[287.87,-0.045],[287.91,-0.036],[287.96,-0.019],[288.01,-0.012],[288.07,-0.012],[288.17,-0.006],[288.25,0.010],[288.31,0.023],[288.36,0.018],[288.46,0.005],[288.65,0.002],[288.81,0.003],[288.90,-0.001],[288.97,-0.015],[289.03,-0.010],[289.13,-0.003],[289.29,-0.001],[289.38,0.008],[289.50,0.012]];
const rfMN_FI: Pt[] = [[284.50,0.005],[284.56,0.014],[284.61,0.018],[284.68,0.010],[284.76,0.016],[284.82,0.008],[284.91,-0.001],[285.01,-0.010],[285.09,-0.015],[285.15,-0.019],[285.22,-0.014],[285.28,-0.003],[285.35,0.001],[285.41,-0.001],[285.46,0.001],[285.50,0.014],[285.55,0.023],[285.60,0.018],[285.66,0.007],[285.74,0.005],[285.84,0.001],[285.94,-0.001],[286.03,-0.004],[286.11,-0.010],[286.16,-0.014],[286.22,-0.006],[286.30,-0.003],[286.41,0.000],[286.51,0.001],[286.61,0.005],[286.70,0.008],[286.76,0.005],[286.83,0.012],[286.88,0.015],[286.92,-0.001],[286.99,-0.019],[287.05,-0.036],[287.13,-0.045],[287.18,-0.026],[287.23,-0.001],[287.28,0.008],[287.37,0.010],[287.43,0.014],[287.51,0.019],[287.59,0.021],[287.67,0.014],[287.75,0.008],[287.83,0.003],[287.91,-0.010],[287.99,-0.021],[288.06,-0.026],[288.10,-0.025],[288.17,-0.014],[288.23,0.005],[288.30,0.014],[288.36,0.010],[288.46,0.005],[288.58,0.003],[288.71,0.003],[288.84,0.003],[288.93,0.001],[289.00,-0.004],[289.09,-0.004],[289.22,-0.003],[289.35,0.001],[289.50,0.006]];

// ---- RR leaf, MN ----
const rlMN_DI0: Pt[] = [[284.50,0.00],[284.58,-0.41],[284.64,0.00],[284.71,1.24],[284.76,1.65],[284.78,3.86],[284.80,5.37],[284.82,6.39],[284.83,5.51],[284.85,3.99],[284.87,2.62],[284.90,1.65],[284.95,0.96],[284.99,1.24],[285.06,0.00],[285.12,-0.83],[285.17,-2.20],[285.20,-3.58],[285.22,-4.41],[285.24,-5.10],[285.27,-5.79],[285.29,-4.96],[285.30,-3.58],[285.31,-1.10],[285.35,-0.41],[285.43,0.14],[285.50,0.96],[285.58,1.10],[285.68,0.55],[285.75,2.48],[285.78,4.13],[285.80,5.65],[285.81,6.12],[285.83,5.23],[285.86,3.86],[285.88,2.48],[285.92,0.28],[285.97,-0.83],[286.03,-0.83],[286.09,-1.10],[286.14,-2.34],[286.19,-3.03],[286.23,-3.86],[286.26,-2.89],[286.29,-1.38],[286.32,1.65],[286.37,1.71],[286.41,0.69],[286.45,-0.14],[286.52,0.69],[286.57,0.00],[286.64,-0.55],[286.73,0.00],[286.79,2.48],[286.83,3.58],[286.87,3.44],[286.90,2.62],[286.94,2.07],[286.99,1.10],[287.04,-0.28],[287.09,-1.10],[287.14,-2.75],[287.19,-3.53],[287.23,-3.53],[287.26,-1.93],[287.31,-0.55],[287.40,0.00],[287.50,0.00],[287.66,0.28],[287.72,0.55],[287.77,1.24],[287.82,3.58],[287.86,4.27],[287.89,3.72],[287.92,2.20],[287.96,1.10],[288.01,0.00],[288.07,-1.10],[288.14,-2.48],[288.18,-3.72],[288.22,-3.72],[288.25,-2.20],[288.31,-0.28],[288.42,-0.14],[288.55,-0.28],[288.65,0.00],[288.73,0.55],[288.77,1.65],[288.81,2.89],[288.83,4.41],[288.86,4.55],[288.89,3.86],[288.91,3.31],[288.95,0.83],[289.00,0.55],[289.05,-0.28],[289.11,-1.24],[289.17,-2.20],[289.22,-2.89],[289.27,-1.65],[289.32,-0.28],[289.36,0.55],[289.43,0.00],[289.50,-0.28]];
const rlMN_DI33: Pt[] = [[284.50,-0.14],[284.60,0.00],[284.69,0.28],[284.76,0.96],[284.80,2.48],[284.83,2.20],[284.88,1.24],[284.95,0.69],[285.01,0.28],[285.07,0.00],[285.14,-1.10],[285.19,-2.20],[285.23,-2.75],[285.28,-3.31],[285.31,-1.38],[285.36,0.00],[285.46,0.28],[285.62,0.41],[285.73,0.69],[285.78,3.31],[285.81,3.86],[285.86,1.65],[285.90,0.28],[285.97,-0.55],[286.06,-1.10],[286.16,-1.52],[286.22,-2.89],[286.25,-2.20],[286.29,-0.28],[286.32,1.10],[286.38,0.96],[286.45,0.41],[286.54,0.14],[286.64,-0.55],[286.73,0.00],[286.80,1.38],[286.86,2.89],[286.92,2.20],[287.00,0.28],[287.08,-0.83],[287.16,-1.79],[287.23,-1.93],[287.29,-0.83],[287.37,-0.14],[287.53,0.00],[287.69,0.14],[287.77,1.10],[287.83,2.89],[287.90,1.93],[287.98,0.41],[288.06,-0.55],[288.14,-1.79],[288.20,-2.89],[288.26,-1.10],[288.33,-0.28],[288.49,-0.08],[288.65,0.00],[288.74,0.55],[288.81,3.03],[288.85,3.44],[288.90,0.96],[288.98,0.41],[289.06,-0.14],[289.14,-1.10],[289.21,-1.79],[289.27,-1.38],[289.32,0.00],[289.36,0.55],[289.43,-0.14],[289.50,-0.41]];
const rlMN_DI66: Pt[] = [[284.50,-0.14],[284.60,0.14],[284.69,0.28],[284.79,0.28],[284.88,0.96],[284.95,0.00],[285.01,-0.41],[285.07,0.28],[285.12,0.55],[285.17,0.50],[285.22,-1.38],[285.27,-0.83],[285.31,-0.28],[285.39,0.28],[285.52,0.28],[285.65,0.41],[285.78,0.61],[285.84,0.55],[285.90,0.00],[285.97,0.00],[286.03,-0.83],[286.10,-1.10],[286.14,0.00],[286.21,-0.83],[286.27,-0.55],[286.33,0.55],[286.41,0.14],[286.54,-0.14],[286.67,-0.28],[286.76,0.28],[286.86,1.38],[286.92,0.83],[287.02,0.00],[287.08,0.00],[287.13,0.41],[287.20,-0.28],[287.26,-0.83],[287.34,-0.14],[287.50,0.00],[287.69,0.14],[287.79,0.28],[287.85,1.10],[287.91,0.41],[287.99,0.14],[288.09,0.41],[288.17,-1.10],[288.22,-1.65],[288.28,-0.55],[288.39,-0.14],[288.58,0.00],[288.74,0.28],[288.82,0.69],[288.89,1.38],[288.95,0.55],[289.03,0.28],[289.11,-0.55],[289.19,-1.24],[289.25,-0.83],[289.32,0.14],[289.38,0.55],[289.44,0.00],[289.50,-0.41]];
const rlMN_FI: Pt[] = [[284.50,-0.14],[284.56,0.00],[284.63,0.28],[284.69,0.41],[284.76,0.55],[284.82,0.69],[284.88,0.83],[284.95,0.69],[285.01,0.41],[285.07,0.00],[285.14,-0.83],[285.20,-1.79],[285.25,-1.65],[285.30,-0.28],[285.35,0.14],[285.43,0.28],[285.52,0.33],[285.62,0.41],[285.71,0.55],[285.76,1.24],[285.81,2.48],[285.86,0.83],[285.90,-0.55],[285.97,-0.83],[286.06,-0.96],[286.16,-1.10],[286.22,-0.83],[286.27,0.00],[286.32,0.96],[286.37,0.96],[286.41,0.28],[286.48,0.00],[286.54,0.14],[286.61,-0.41],[286.65,-0.69],[286.72,-0.28],[286.78,0.83],[286.86,1.79],[286.92,2.07],[286.99,1.38],[287.05,0.00],[287.12,-1.10],[287.18,-1.65],[287.24,-1.24],[287.31,-0.41],[287.40,0.00],[287.56,0.14],[287.69,0.14],[287.75,0.55],[287.82,1.65],[287.88,2.34],[287.93,1.38],[287.99,0.55],[288.06,-0.28],[288.12,-1.38],[288.18,-2.62],[288.25,-1.38],[288.31,-0.41],[288.42,-0.14],[288.58,-0.06],[288.71,0.28],[288.79,1.38],[288.87,2.75],[288.92,0.83],[288.98,0.41],[289.05,0.14],[289.13,-1.10],[289.21,-1.52],[289.27,-0.55],[289.32,0.41],[289.36,0.69],[289.43,-0.14],[289.50,-0.41]];

// ---- layout ----
const ROW_TOPS = [99, 807, 1516, 2224];
const PLOT_H = 708;
const PLOT_BOTTOM = 2932;
const COL_LEFT = [183, 1245];
const COL_RIGHT = [1245, 2308];

const fmtInt = (v: number) => String(v);
const rowAxes = [
  { domain: [-3, 3], ticks: fdTicks, fmt: fmtInt },
  { domain: [-3.5, 3.5], ticks: ppTicks, fmt: fmtInt },
  { domain: [-0.2, 0.2], ticks: rfTicks, fmt: (v: number) => (Math.abs(v - 0.2) < 1e-9 ? '' : v.toFixed(1)) },
  { domain: [-15, 15], ticks: rlTicks, fmt: (v: number) => (v === 15 ? '' : String(v)) },
];

const panelSeries = [
  [
    { 'DI-0': fdNB_DI0, 'DI-33': fdNB_DI33, 'DI-66': fdNB_DI66, FI: fdNB_FI },
    { 'DI-0': ppNB_DI0, 'DI-33': ppNB_DI33, 'DI-66': ppNB_DI66, FI: ppNB_FI },
    { 'DI-0': rfNB_DI0, 'DI-33': rfNB_DI33, 'DI-66': rfNB_DI66, FI: rfNB_FI },
    { 'DI-0': rlNB_DI0, 'DI-33': rlNB_DI33, 'DI-66': rlNB_DI66, FI: rlNB_FI },
  ],
  [
    { 'DI-0': fdMN_DI0, 'DI-33': fdMN_DI33, 'DI-66': fdMN_DI66, FI: fdMN_FI },
    { 'DI-0': ppMN_DI0, 'DI-33': ppMN_DI33, 'DI-66': ppMN_DI66, FI: ppMN_FI },
    { 'DI-0': rfMN_DI0, 'DI-33': rfMN_DI33, 'DI-66': rfMN_DI66, FI: rfMN_FI },
    { 'DI-0': rlMN_DI0, 'DI-33': rlMN_DI33, 'DI-66': rlMN_DI66, FI: rlMN_FI },
  ],
];

const lineStyle: Record<string, any> = {
  'DI-0': { strokeWidth: 7.5, strokeDasharray: '0 19', strokeLinecap: 'round' },
  'DI-33': { strokeWidth: 2.4, strokeDasharray: '26 12' },
  'DI-66': { strokeWidth: 2.4 },
  FI: { strokeWidth: 5.5 },
};
const legendLineStyle: Record<string, any> = {
  'DI-0': { strokeWidth: 8, strokeDasharray: '0 19.5', strokeLinecap: 'round' },
  'DI-33': { strokeWidth: 2.5, strokeDasharray: '20 12' },
  'DI-66': { strokeWidth: 2.5 },
  FI: { strokeWidth: 7, strokeLinecap: 'round' },
};

const axisLine = { stroke: '#000', strokeWidth: 2.5 };
const tickLine = { stroke: '#000', strokeWidth: 2 };
const toXY = (a: Pt[]) => a.map(([x, y]) => ({ x, y }));

const renderLegend = () => (
  <svg width={330} height={250} style={{ display: 'block', overflow: 'visible' }}>
    {seriesNames.map((n, i) => {
      const y = 40 + i * 56;
      return (
        <g key={n}>
          <line x1={8} x2={124} y1={y} y2={y} stroke="#000" {...legendLineStyle[n]} />
          <text x={156} y={y + 16} fontSize={45} fontFamily={FONT} fill="#000">{n}</text>
        </g>
      );
    })}
  </svg>
);

function Panel({ row, col }: { row: number; col: number }) {
  const ax = rowAxes[row];
  const isLeft = col === 0;
  const isBottom = row === 3;
  const bottomH = isBottom ? 100 : 1;
  const width = isLeft ? 1246 : 1065;
  const left = isLeft ? 0 : 1244;
  const height = 1 + PLOT_H + bottomH;
  const nights = isLeft ? nightsNB : nightsMN;
  const series = panelSeries[col][row] as Record<string, Pt[]>;
  const yFont = { fontSize: 38, fill: '#000', fontFamily: FONT };
  const xFont = { fontSize: 40, fill: '#000', fontFamily: FONT };
  return (
    <div style={{ position: 'absolute', left, top: ROW_TOPS[row] - 1 }}>
      <LineChart width={width} height={height} margin={{ top: 0, right: 0, bottom: 0, left: 0 }}>
        <XAxis dataKey="x" type="number" domain={[284.5, 289.5]} ticks={doyTicks} allowDataOverflow interval={0}
          height={bottomH} tickSize={-7} tickMargin={41} axisLine={axisLine} tickLine={tickLine}
          tick={isBottom ? xFont : false} />
        <XAxis xAxisId="t" orientation="top" dataKey="x" type="number" domain={[284.5, 289.5]} ticks={doyTicks}
          allowDataOverflow interval={0} height={1} tickSize={-7} axisLine={axisLine} tickLine={tickLine} tick={false} />
        <YAxis type="number" domain={ax.domain} ticks={ax.ticks} allowDataOverflow interval={0}
          width={isLeft ? 183 : 1} tickSize={-11} tickMargin={33} axisLine={axisLine} tickLine={tickLine}
          tick={isLeft ? yFont : false} tickFormatter={ax.fmt} />
        <YAxis yAxisId="r" orientation="right" type="number" domain={ax.domain} ticks={ax.ticks} allowDataOverflow
          interval={0} width={1} tickSize={-11} axisLine={axisLine} tickLine={tickLine} tick={false} />
        {nights.map(([a, b]) => (
          <ReferenceArea key={a} x1={a} x2={b} fill="#d9d9d9" fillOpacity={1} stroke="none" />
        ))}
        <ReferenceLine y={0} stroke="#b4b4b4" strokeWidth={2} />
        {seriesNames.map((n) => (
          <Line key={n} name={n} data={toXY(series[n])} dataKey="y" type="monotone" stroke="#000" dot={false}
            activeDot={false} isAnimationActive={false} {...lineStyle[n]} />
        ))}
        {row === 0 && col === 0 && (
          <Legend layout="vertical" align="center" verticalAlign="middle" content={renderLegend}
            wrapperStyle={{ left: 288, top: 18, width: 330, height: 250 }} />
        )}
      </LineChart>
    </div>
  );
}

const rowCenters = ROW_TOPS.map((t) => t + PLOT_H / 2);

function YTitles() {
  const fs = 46;
  const sub = 32;
  return (
    <g fontFamily={FONT} fill="#000">
      <text transform={`translate(70,${rowCenters[0]}) rotate(-90)`} textAnchor="middle" fontSize={fs}>FD (z-scores)</text>
      <text transform={`translate(70,${rowCenters[1]}) rotate(-90)`} textAnchor="middle" fontSize={fs}>pp (z-scores)</text>
      <text transform={`translate(54,${rowCenters[2]}) rotate(-90)`} textAnchor="middle" fontSize={fs}>
        RR<tspan fontSize={sub} dy={12}>fruit</tspan>
        <tspan dy={-12}> (μm mm</tspan><tspan fontSize={sub} dy={-18}>-1</tspan>
        <tspan dy={18}> min</tspan><tspan fontSize={sub} dy={-18}>-1</tspan>
        <tspan dy={18}>)</tspan>
      </text>
      <text transform={`translate(54,${rowCenters[3]}) rotate(-90)`} textAnchor="middle" fontSize={fs}>
        RR<tspan fontSize={sub} dy={12}>leaf</tspan>
        <tspan dy={-12}> (Pa kPa</tspan><tspan fontSize={sub} dy={-18}>-1</tspan>
        <tspan dy={18}> min</tspan><tspan fontSize={sub} dy={-18}>-1</tspan>
        <tspan dy={18}>)</tspan>
      </text>
    </g>
  );
}

export default function App() {
  const stripBorder = '2px solid #9c9c9c';
  return (
    <div style={{ position: 'relative', width: 2319, height: 3103, background: '#fff', fontFamily: FONT, overflow: 'hidden' }}>
      <style>{'body{margin:0} .recharts-surface{overflow:visible}'}</style>
      {sites.map((s, c) => (
        <React.Fragment key={s}>
          <div style={{
            position: 'absolute', left: COL_LEFT[c], top: 9, width: COL_RIGHT[c] - COL_LEFT[c], height: 90,
            background: siteColors[c], borderTop: stripBorder, borderLeft: stripBorder,
            borderRight: c === 1 ? stripBorder : 'none', boxSizing: 'border-box',
            display: 'flex', alignItems: 'center', justifyContent: 'center', fontSize: 72, color: '#000',
          }}>{s}</div>
          <div style={{
            position: 'absolute', left: COL_LEFT[c], top: PLOT_BOTTOM, width: COL_RIGHT[c] - COL_LEFT[c], height: 91,
            background: siteColors[c], borderBottom: stripBorder, borderLeft: stripBorder,
            borderRight: c === 1 ? stripBorder : 'none', boxSizing: 'border-box',
          }} />
        </React.Fragment>
      ))}
      {[0, 1].map((c) => [0, 1, 2, 3].map((r) => <Panel key={`${c}-${r}`} row={r} col={c} />))}
      <svg width={2319} height={3103} style={{ position: 'absolute', left: 0, top: 0, pointerEvents: 'none' }}>
        {panelLetters.map((letters, c) => letters.map((l, r) => (
          <text key={l} x={COL_LEFT[c] + 12} y={ROW_TOPS[r] + 64} fontSize={52} fontFamily={FONT} fill="#000">{l}</text>
        )))}
        <YTitles />
        <text x={1246} y={3097} textAnchor="middle" fontSize={58} fontFamily={FONT} fill="#000">DOY</text>
      </svg>
    </div>
  );
}
